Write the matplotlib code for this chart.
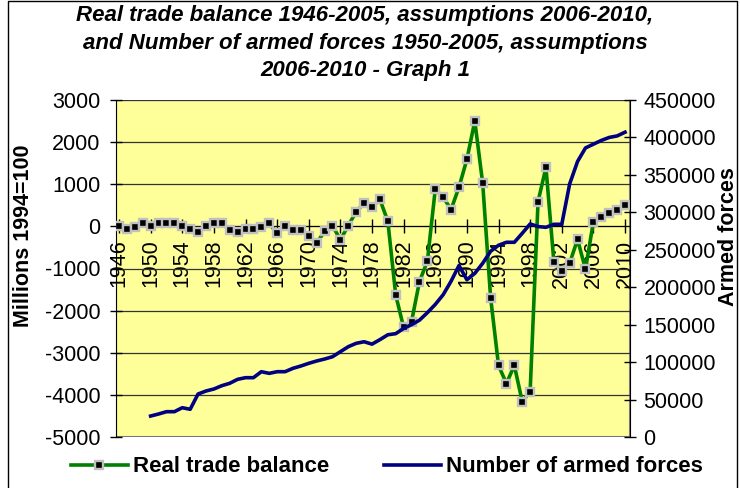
import matplotlib.pyplot as plt
from matplotlib.lines import Line2D

plt.rcParams['font.family'] = ['Liberation Sans', 'DejaVu Sans']
plt.rcParams['axes.unicode_minus'] = False

years = list(range(1946, 2011))
trade_balance = [
    0, -70, -20, 70, 20, 70, 70, 70, 20, -70,
    -140, 20, 70, 70, -85, -140, -70, -70, -20, 70,
    -165, 20, -85, -85, -220, -400, -115, 20, -320, 20,
    350, 550, 460, 640, 120, -1630, -2400, -2260, -1310, -830,
    880, 690, 400, 930, 1590, 2500, 1020, -1690, -3300, -3730,
    -3300, -4160, -3920, 590, 1400, -840, -1060, -870, -310, -1020,
    110, 220, 310, 400, 505,
]
forces_years = list(range(1950, 2011))
armed_forces = [
    28000, 30700, 33800, 33800, 39100, 37000, 57400, 61400, 64100, 68500,
    71700, 77000, 79200, 79200, 87200, 85000, 87200, 87200, 91700, 94800,
    98400, 101500, 104100, 107200, 113900, 120600, 125100, 127200, 124000, 130000,
    136500, 138000, 145000, 150000, 156000, 166000, 177000, 190000, 208000, 229000,
    210000, 218500, 232000, 248000, 256000, 260000, 260000, 272000, 284500, 281000,
    280000, 284000, 284000, 338000, 368000, 386000, 391000, 396000, 400000, 402000,
    407000,
]
x_ticks = list(range(1946, 2011, 4))

fig = plt.figure(figsize=(7.4, 4.88), dpi=100)
ax = fig.add_axes([116 / 740, 51 / 488, 514 / 740, 337 / 488])
ax.set_facecolor('#ffff99')

for s in ax.spines.values():
    s.set_visible(False)
ax.add_patch(plt.Rectangle((0, 0), 1, 1, transform=ax.transAxes, fill=False,
                           edgecolor='#808080', lw=1.5, zorder=0.5))
ax.spines['left'].set_visible(True)
ax.spines['left'].set_color('black')
ax.spines['bottom'].set_visible(True)
ax.spines['bottom'].set_position(('data', 0))
ax.spines['bottom'].set_color('black')

ax.plot(years, trade_balance, color='#008000', lw=2.6, marker='s', ms=5.5,
        mfc='black', mec='#c0c0c0', mew=1.7, zorder=3)
ax.set_ylim(-5000, 3000)
ax.set_yticks(range(-5000, 3001, 1000))
ax.set_xlim(1945.62, 2010.63)
ax.set_xticks(x_ticks)
ax.set_xticklabels([str(y) for y in x_ticks], rotation=90, va='top')
ax.grid(axis='y', color='#333333', lw=0.9)
ax.set_axisbelow(True)
ax.tick_params(axis='x', direction='inout', length=10, width=1, pad=4.5, labelsize=15.5)
ax.tick_params(axis='y', direction='inout', length=8.6, width=1, pad=7, labelsize=15.5)
ax.set_ylabel('Millions 1994=100', fontsize=15.5, fontweight='bold')
ax.yaxis.set_label_coords(-0.16, 0.596)

ax2 = ax.twinx()
for s in ax2.spines.values():
    s.set_visible(False)
ax2.spines['right'].set_visible(True)
ax2.spines['right'].set_color('black')
ax2.plot(forces_years, armed_forces, color='#000080', lw=2.6, zorder=3)
ax2.set_ylim(0, 450000)
ax2.set_yticks(range(0, 450001, 50000))
ax2.tick_params(axis='y', direction='inout', length=8.6, width=1, pad=5.5, labelsize=15.5)
ax2.set_ylabel('Armed forces', fontsize=15.5, fontweight='bold')
ax2.yaxis.set_label_coords(1.172, 0.594)

fig.text(365 / 740, 1 - 43 / 488,
         'Real trade balance 1946-2005, assumptions 2006-2010,\n'
         'and Number of armed forces 1950-2005, assumptions\n'
         '2006-2010 - Graph 1',
         ha='center', va='center', fontsize=16, fontweight='bold',
         fontstyle='italic', linespacing=1.38)

handles = [
    Line2D([], [], color='#008000', lw=2.6, marker='s', ms=5.5, mfc='black',
           mec='#c0c0c0', mew=1.7),
    Line2D([], [], color='#000080', lw=2.6),
]
fig.legend(handles, ['Real trade balance', 'Number of armed forces'],
           loc='center', bbox_to_anchor=(387 / 740, 21 / 488), ncol=2,
           frameon=False, numpoints=1, handlelength=2.55, handletextpad=0.22,
           columnspacing=2.5, prop={'weight': 'bold', 'size': 16})

fig.add_artist(Line2D([8 / 740, 8 / 740, 737 / 740, 737 / 740],
                      [-0.01, 1 - 1 / 488, 1 - 1 / 488, -0.01],
                      transform=fig.transFigure, color='black', lw=1))

fig.savefig('out.png', dpi=100)
